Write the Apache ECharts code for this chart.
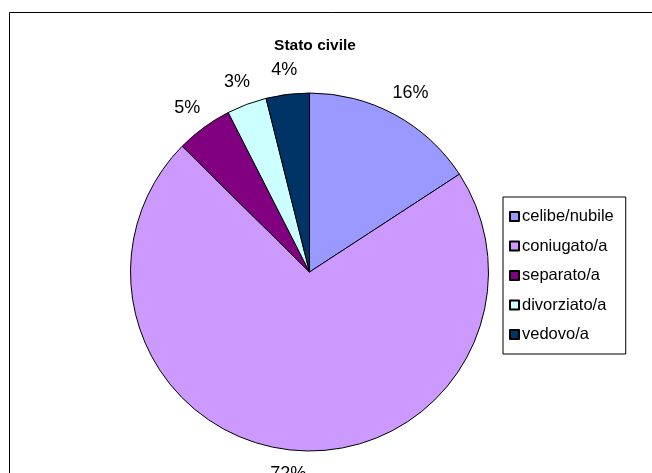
<!DOCTYPE html>
<html>
<head>
<meta charset="utf-8">
<script src="https://cdn.jsdelivr.net/npm/echarts@6/dist/echarts.min.js"></script>
<style>html,body{margin:0;padding:0;background:#fff}#c{width:652px;height:473px}</style>
</head>
<body>
<div id="c"></div>
<script>
const categories = ['celibe/nubile', 'coniugato/a', 'separato/a', 'divorziato/a', 'vedovo/a'];
const values = [15.8, 71.6, 5.1, 3.6, 3.9];
const percentLabels = ['16%', '72%', '5%', '3%', '4%'];
const colors = ['#9999FF', '#CC99FF', '#800080', '#CCFFFF', '#003366'];
const titleText = 'Stato civile';

const FONT = '"Liberation Sans", Arial, sans-serif';
const CX = 309.5, CY = 272, R = 179, LABEL_GAP = 15;
const data = categories.map((n, i) => ({ name: n, value: values[i], itemStyle: { color: colors[i] } }));
const chart = echarts.init(document.getElementById('c'), null, { renderer: 'canvas' });
chart.setOption({
  animation: false,
  backgroundColor: '#fff',
  graphic: [{
    type: 'rect', silent: true, z: -1,
    shape: { x: 9.5, y: 12.5, width: 700, height: 500 },
    style: { fill: 'none', stroke: '#000', lineWidth: 1 }
  }],
  title: {
    text: titleText, left: 310, top: 33, textAlign: 'center',
    textStyle: { fontFamily: FONT, fontSize: 15.5, fontWeight: 'bold', color: '#000' }
  },
  legend: {
    orient: 'vertical', left: 503, top: 197,
    padding: [11, 12, 11, 6],
    borderColor: '#000', borderWidth: 1, backgroundColor: '#fff',
    itemWidth: 9, itemHeight: 9, itemGap: 12.5,
    icon: 'rect',
    data: categories,
    textStyle: { fontFamily: FONT, fontSize: 16.5, color: '#000', padding: [0, 0, 0, -2] },
    selectedMode: false
  },
  series: [{
    type: 'pie',
    center: [CX, CY],
    radius: [0, R],
    startAngle: 90,
    clockwise: true,
    silent: true,
    itemStyle: { borderColor: '#000', borderWidth: 1 },
    label: {
      show: true, position: 'inside',
      fontFamily: FONT, fontSize: 18, color: '#000',
      formatter: p => percentLabels[p.dataIndex]
    },
    labelLine: { show: false },
    labelLayout: function (p) {
      const r = p.labelRect;
      const mx = r.x + r.width / 2 - CX, my = r.y + r.height / 2 - CY;
      const d = Math.hypot(mx, my) || 1;
      const ux = mx / d, uy = my / d;
      return {
        x: CX + ux * (R + LABEL_GAP) + ux * r.width / 2,
        y: CY + uy * (R + LABEL_GAP) + uy * r.height / 2,
        align: 'center', verticalAlign: 'middle'
      };
    },
    data: data
  }]
});
</script>
</body>
</html>
